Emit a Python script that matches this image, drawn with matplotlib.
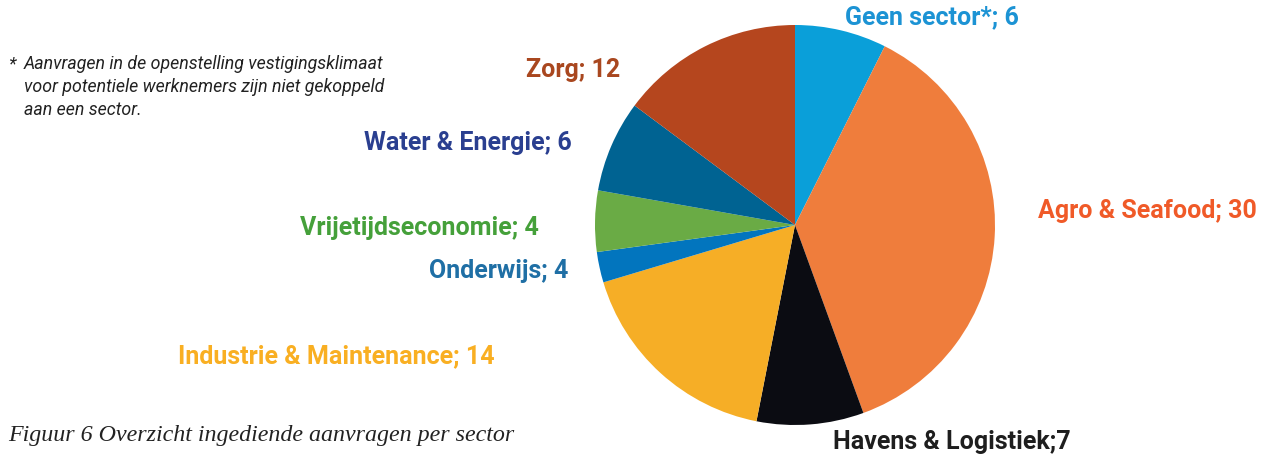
import matplotlib
matplotlib.use('Agg')
import matplotlib.pyplot as plt

W, H = 1266, 457

# wedge sizes as drawn (clockwise from 12 o'clock)
sectors = ['Geen sector*', 'Agro & Seafood', 'Havens & Logistiek', 'Industrie & Maintenance',
           'Onderwijs', 'Vrijetijdseconomie', 'Water & Energie', 'Zorg']
sizes = [6, 30, 7, 14, 2, 4, 6, 12]
label_texts = ['Geen sector*; 6', 'Agro & Seafood; 30', 'Havens & Logistiek;7',
               'Industrie & Maintenance; 14', 'Onderwijs; 4', 'Vrijetijdseconomie; 4',
               'Water & Energie; 6', 'Zorg; 12']
wedge_colors = ['#0a9fd9', '#ef7d3c', '#0b0c12', '#f6ae26', '#0275be', '#6aab45', '#006392', '#b5461e']
label_colors = ['#1c93d4', '#f05a28', '#1e1e1e', '#f9af22', '#1f6fa5', '#45a03a', '#2a3f90', '#a9471f']

# label anchor (pixel x, pixel y from top, alignment)
label_pos = [(845, 17, 'left'), (1038, 211, 'left'), (833, 442, 'left'), (495, 356, 'right'),
             (568, 271, 'right'), (539, 228, 'right'), (572, 143, 'right'), (620, 70, 'right')]

footnote = ['Aanvragen in de openstelling vestigingsklimaat',
            'voor potentiele werknemers zijn niet gekoppeld',
            'aan een sector.']
caption = 'Figuur 6 Overzicht ingediende aanvragen per sector'

fig = plt.figure(figsize=(W / 100, H / 100), dpi=100)
fig.patch.set_facecolor('white')

cx, cy, r = 795, 225, 200
ax = fig.add_axes([(cx - r) / W, (H - cy - r) / H, 2 * r / W, 2 * r / H])
ax.pie(sizes, colors=wedge_colors, startangle=90, counterclock=False, radius=1,
       wedgeprops=dict(linewidth=0))
ax.set_xlim(-1, 1)
ax.set_ylim(-1, 1)
ax.set_aspect('equal')
ax.axis('off')

for txt, col, (px, py, ha) in zip(label_texts, label_colors, label_pos):
    fig.text(px / W, 1 - py / H, txt, color=col, ha=ha, va='center',
             fontsize=18, fontweight='bold', family='Roboto')

fig.text(8 / W, 1 - 64 / H, '*', fontsize=12.8, style='italic', family='Roboto',
         color='#222222', va='center')
for i, line in enumerate(footnote):
    fig.text(24 / W, 1 - (64 + 23 * i) / H, line, fontsize=12.8, style='italic',
             family='Roboto', color='#222222', va='center')

fig.text(8 / W, 1 - 436 / H, caption, fontsize=17.3, style='italic',
         family='Liberation Serif', color='#222222', va='center')

fig.savefig('out.png', dpi=100)
